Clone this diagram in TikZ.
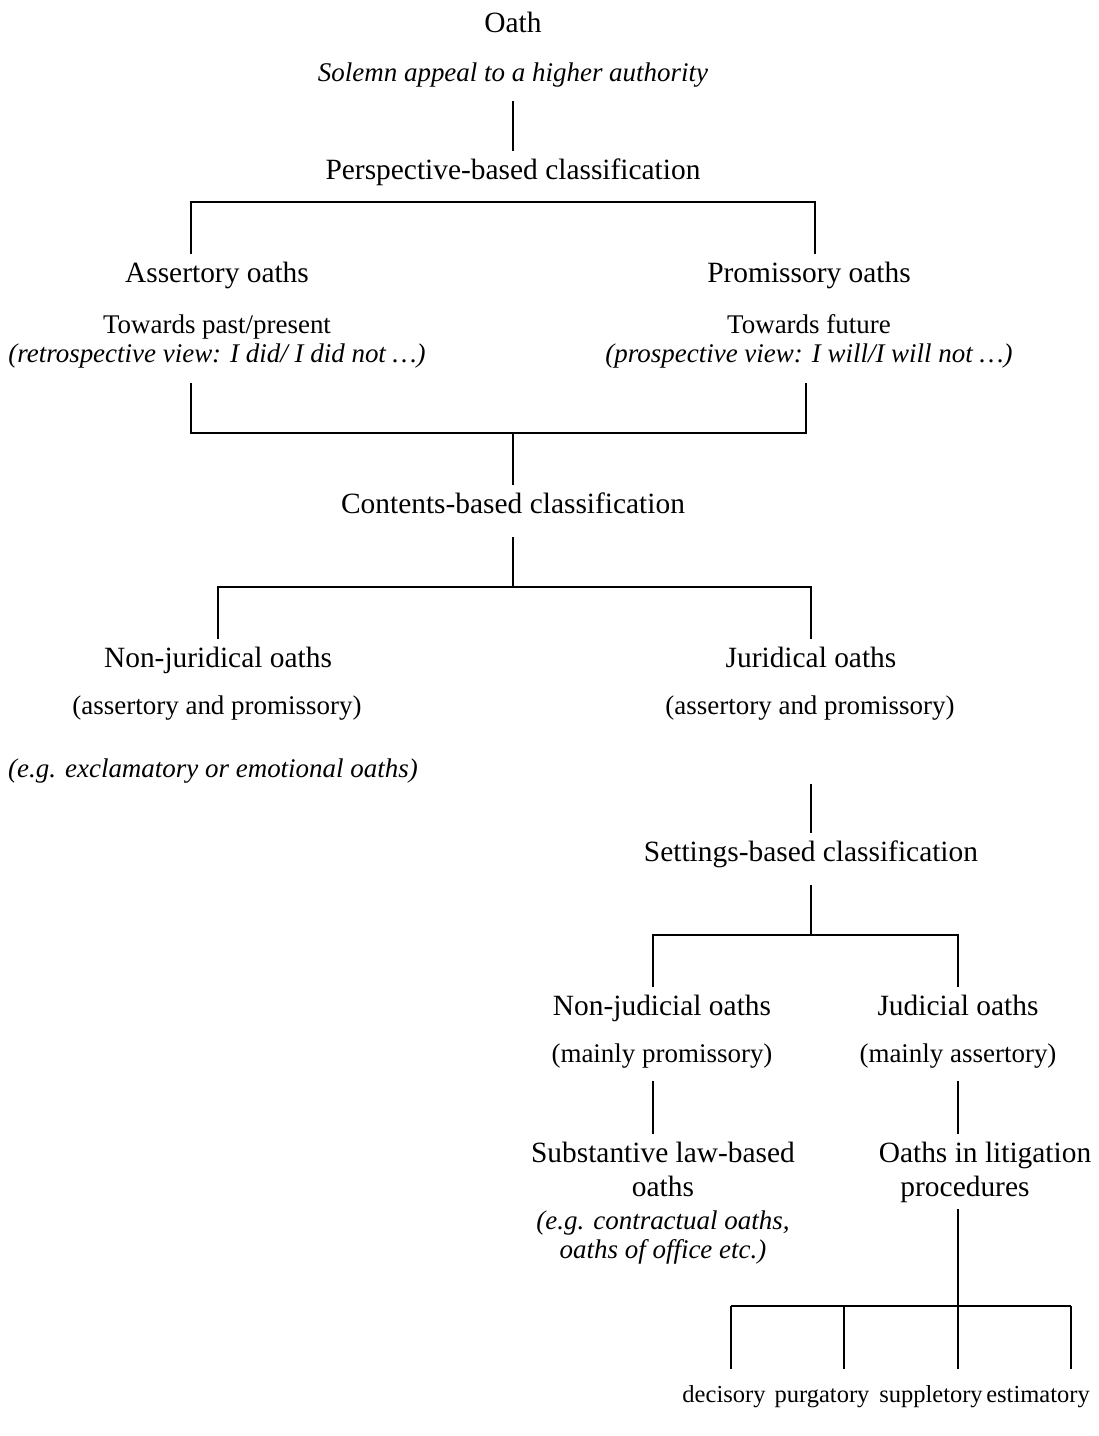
\documentclass[tikz,border=0pt]{standalone}
\usepackage{fontspec}
\setmainfont{Liberation Serif}

\begin{document}
\begin{tikzpicture}[x=0.408pt,y=-0.408pt,line width=0.8pt]
	\tikzstyle{head}=[font=\fontsize{12}{14}\selectfont,text height=8.5pt,text depth=2.5pt,inner xsep=0pt,inner ysep=2.5pt,anchor=base]
	\tikzstyle{sub}=[font=\fontsize{11}{13}\selectfont,text height=7.8pt,text depth=2.3pt,inner xsep=0pt,inner ysep=2.5pt,anchor=base]
	\tikzstyle{note}=[sub,font=\fontsize{11}{13}\selectfont\itshape]
	\tikzstyle{leaf}=[font=\fontsize{10}{12}\selectfont,text height=7pt,text depth=2pt,inner xsep=0pt,inner ysep=6pt,anchor=base]
	\useasboundingbox (0,0) rectangle (1098,1436);

	\node[head] (oath) at (513,32) {Oath};
	\node[note] (solemn) at (513,81) {Solemn appeal to a higher authority};
	\node[head] (persp) at (513,179) {Perspective-based classification};
	\node[head] (assert) at (217,282) {Assertory oaths};
	\node[head] (promis) at (809,282) {Promissory oaths};
	\node[sub] (towpast) at (217,333) {Towards past/present};
	\node[note] (retro) at (217,362) {(retrospective view: I did/ I did not …)};
	\node[sub] (towfut) at (809,333) {Towards future};
	\node[note] (prosp) at (809,362) {(prospective view: I will/I will not …)};
	\node[head] (contents) at (513,513) {Contents-based classification};
	\node[head] (nonjur) at (218,667) {Non-juridical oaths};
	\node[head] (jur) at (811,667) {Juridical oaths};
	\node[sub] (nonjurkind) at (217,714) {(assertory and promissory)};
	\node[sub] (jurkind) at (810,714) {(assertory and promissory)};
	\node[note] (nonjurex) at (213,777) {(e.g. exclamatory or emotional oaths)};
	\node[head] (settings) at (811,861) {Settings-based classification};
	\node[head] (nonjud) at (662,1015) {Non-judicial oaths};
	\node[head] (jud) at (958,1015) {Judicial oaths};
	\node[sub] (nonjudkind) at (662,1062) {(mainly promissory)};
	\node[sub] (judkind) at (958,1062) {(mainly assertory)};
	\node[head] (subst) at (663,1162) {Substantive law-based};
	\node[head] (substb) at (663,1196) {oaths};
	\node[note] (substex) at (663,1229) {(e.g. contractual oaths,};
	\node[note] (substexb) at (663,1258) {oaths of office etc.)};
	\node[head] (litig) at (985,1162) {Oaths in litigation};
	\node[head] (litigb) at (965,1196) {procedures};
	\node[leaf] (decis) at (724,1402) {decisory};
	\node[leaf] (purg) at (822,1402) {purgatory};
	\node[leaf] (supp) at (931,1402) {suppletory};
	\node[leaf] (estim) at (1038,1402) {estimatory};

	\coordinate (pl) at (191,202);
	\coordinate (pr) at (815,202);
	\coordinate (ql) at (191,433);
	\coordinate (qr) at (806,433);
	\coordinate (cj) at (513,587);
	\coordinate (sl) at (653,935);
	\coordinate (sr) at (958,935);
	\coordinate (ld) at (731,1306);
	\coordinate (lp) at (844,1306);
	\coordinate (lj) at (958,1306);
	\coordinate (le) at (1071,1306);

	\draw[shorten <=3pt] (solemn.south) -- (persp.north);
	\draw (assert.north -| pl) -- (pl) -- (pr) -- (promis.north -| pr);
	\draw[shorten <=3.5pt,shorten >=3.5pt] (retro.south -| ql) -- (ql) -- (qr) -- (prosp.south -| qr);
	\draw (ql -| contents) -- (contents.north);
	\draw[shorten <=4.5pt] (contents.south) -- (cj);
	\draw (nonjur.north) |- (cj -| jur) -- (jur.north);
	\draw ([yshift=2.5pt]nonjurex.south -| jur) -- (settings.north);
	\draw[shorten <=4.5pt] (settings.south) -- (sl -| settings);
	\draw (nonjud.north -| sl) -- (sl) -- (sr) -- (jud.north);
	\draw[shorten <=2.5pt] (nonjudkind.south -| sl) -- (subst.north -| sl);
	\draw[shorten <=2.5pt] (judkind.south) -- (litig.north -| judkind);
	\draw (litigb.south -| lj) -- (lj);
	\draw (ld) -- (le);
	\foreach \c/\n in {ld/decis,lp/purg,lj/supp,le/estim}
		\draw (\c) -- (\n.north -| \c);
\end{tikzpicture}
\end{document}
